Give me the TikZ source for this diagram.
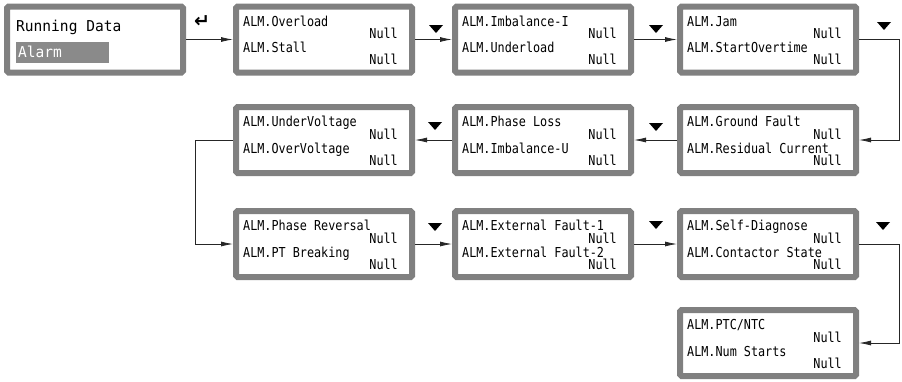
\documentclass[tikz,border=0pt]{standalone}
\usepackage{fontspec}
\usetikzlibrary{calc,arrows.meta}
\newfontfamily\lcdfont[FakeStretch=0.86]{DejaVu Sans Mono}
\newfontfamily\lcdbig[FakeStretch=0.97]{DejaVu Sans Mono}
\newfontfamily\symfont{DejaVu Sans}
\definecolor{framegray}{HTML}{808080}
\definecolor{hlgray}{HTML}{8A8A8A}
\newcommand\almbox[5]{%
  \node[lcdbox] (#1) at (#2,#3) {};
  \node[lcdtxt, anchor=base west] (#1la) at ($(#1.north west)+(10,22.5)$) {#4};
  \node[lcdtxt, anchor=base east] (#1na) at ($(#1.north east)+(-17,35)$) {Null};
  \node[lcdtxt, anchor=base west] (#1lb) at ($(#1.north west)+(10,49)$) {#5};
  \node[lcdtxt, anchor=base east] (#1nb) at ($(#1.north east)+(-17,61)$) {Null};
}
\newcommand\dtri[2]{\fill[black] (#1-7,#2-4) -- (#1+7,#2-4) -- (#1,#2+4) -- cycle;}
\begin{document}
\begin{tikzpicture}[x=1pt,y=-1pt,
  lcdbox/.style={draw=framegray, line width=6pt, rounded corners=1.5pt,
    minimum width=176pt, minimum height=66pt, inner sep=0pt, fill=white},
  lcdtxt/.style={inner sep=0pt, font=\lcdfont\fontsize{13.7}{14}\selectfont},
  bigtxt/.style={inner sep=0pt, font=\lcdbig\fontsize{15}{16}\selectfont},
  conn/.style={draw=black!85, line width=0.8pt, -{Latex[length=12pt,width=5pt]}},
]
\useasboundingbox[fill=white] (0,0) rectangle (902,381);

% first screen
\node[lcdbox] (b0) at (95,39.5) {};
\node[bigtxt, anchor=base west] (rd) at (16,31) {Running Data};
\node[fill=hlgray, minimum width=93pt, minimum height=21pt, anchor=north west, inner sep=0pt] (hl) at (16,42) {};
\node[bigtxt, anchor=base west, text=white] (al) at (18,57) {Alarm};
\node[inner sep=0pt, font=\symfont\bfseries\fontsize{19}{20}\selectfont] (ent) at (202,22) {↵};

\almbox{b1}{324}{39.5}{ALM.Overload}{ALM.Stall}
\almbox{b2}{543}{39.5}{ALM.Imbalance-I}{ALM.Underload}
\almbox{b3}{768}{39.5}{ALM.Jam}{ALM.StartOvertime}
\almbox{b4}{324}{140}{ALM.UnderVoltage}{ALM.OverVoltage}
\almbox{b5}{543}{140}{ALM.Phase Loss}{ALM.Imbalance-U}
\almbox{b6}{768}{140}{ALM.Ground Fault}{ALM.Residual Current}
\almbox{b7}{324}{244}{ALM.Phase Reversal}{ALM.PT Breaking}
\almbox{b8}{543}{244}{ALM.External Fault-1}{ALM.External Fault-2}
\almbox{b9}{768}{244}{ALM.Self-Diagnose}{ALM.Contactor State}
\almbox{b10}{768}{343}{ALM.PTC/NTC}{ALM.Num Starts}

% connectors
\draw[conn] (b0.east) -- (b1.west);
\draw[conn] (b1.east) -- (b2.west);
\draw[conn] (b2.east) -- (b3.west);
\draw[conn] (b3.east) -- ++(40,0) |- (b6.east);
\draw[conn] (b6.west) -- (b5.east);
\draw[conn] (b5.west) -- (b4.east);
\draw[conn] (b4.west) -- ++(-38,0) |- (b7.west);
\draw[conn] (b7.east) -- (b8.west);
\draw[conn] (b8.east) -- (b9.west);
\draw[conn] (b9.east) -- ++(40,0) |- (b10.east);

% down keys
\dtri{436}{29}
\dtri{656}{29}
\dtri{884}{26}
\dtri{435}{126}
\dtri{656}{127}
\dtri{435}{227}
\dtri{656}{225}
\dtri{883}{226}
\end{tikzpicture}
\end{document}
